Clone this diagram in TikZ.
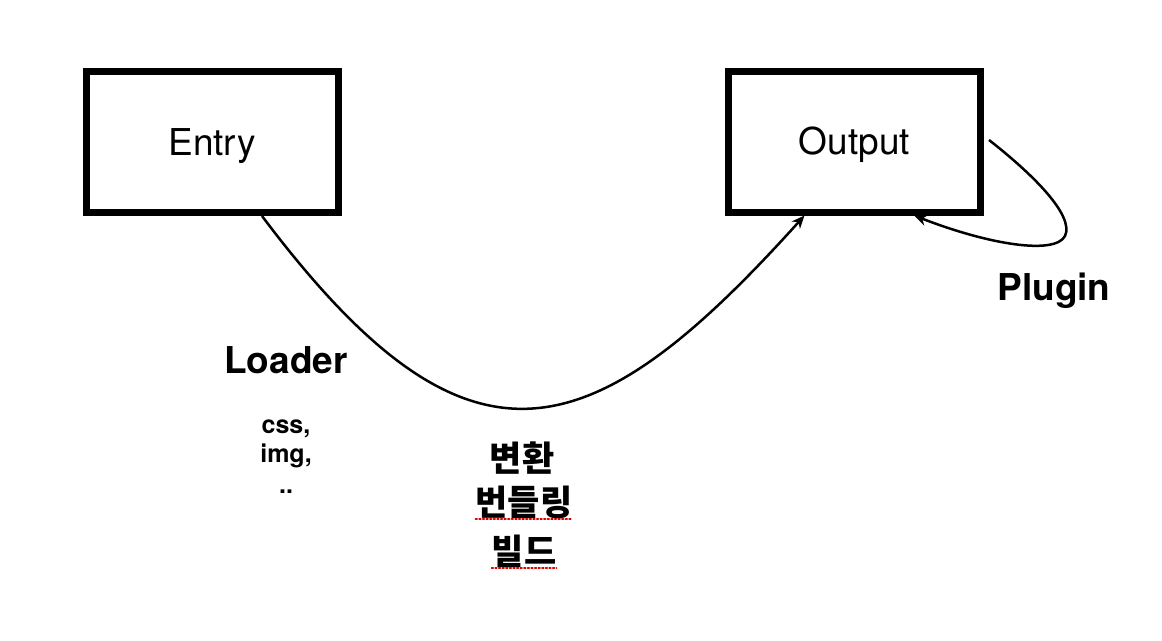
\documentclass[tikz,border=0pt]{standalone}
\usepackage{fontspec}
\setmainfont{TeX Gyre Heros}
\newfontfamily\krfont{Noto Sans CJK KR}
\usetikzlibrary{arrows.meta}
\tikzset{
  boxnode/.style={draw, line width=7pt, minimum width=252pt, minimum height=141pt,
    font=\fontsize{37}{42}\selectfont, text height=26pt, text depth=0pt},
  conn/.style={line width=2.5pt, -{Stealth[length=13pt,width=11pt]}},
  lbl/.style={font=\bfseries\fontsize{37}{42}\selectfont, inner sep=0pt, anchor=base},
  small/.style={font=\bfseries\fontsize{25}{30}\selectfont, inner sep=0pt, anchor=base},
  kr/.style={font=\krfont\bfseries\fontsize{35}{40}\selectfont, inner sep=0pt},
  spell/.style={draw=red!85!black, line width=1.6pt, dotted, line cap=round}
}
\begin{document}
\begin{tikzpicture}[x=1pt, y=-1pt]
\useasboundingbox[fill=white] (0,0) rectangle (1162,640);
\node[boxnode] (entry) at (212,142) {Entry};
\node[boxnode] (output) at (854.5,141.5) {Output};
\coordinate (loopend) at ([xshift=-70pt]output.south east);
\draw[conn] ([xshift=50pt]entry.south) .. controls (468,490) and (590,454) .. ([xshift=-50pt]output.south);
\draw[conn] ([xshift=5pt,yshift=1.5pt]output.east) .. controls (1030,172) and (1075,215) .. (1065,236)
  .. controls (1055,255) and (990,245) .. (loopend);
\node[lbl] (loader) at (286,373) {Loader};
\node[lbl] (plugin) at (1054,300) {Plugin};
\node[small] (css) at (286,433) {css,};
\node[small] (img) at (286,462) {img,};
\node[small] (dots) at (286,493) {..};
\node[kr] (k1) at (522,458) {변환};
\node[kr] (k2) at (524,502) {번들링};
\node[kr] (k3) at (524,551) {빌드};
\draw[spell] ([yshift=-4pt]k2.base west) -- ([yshift=-4pt]k2.base east);
\draw[spell] ([yshift=-4pt]k3.base west) -- ([yshift=-4pt]k3.base east);
\end{tikzpicture}
\end{document}
